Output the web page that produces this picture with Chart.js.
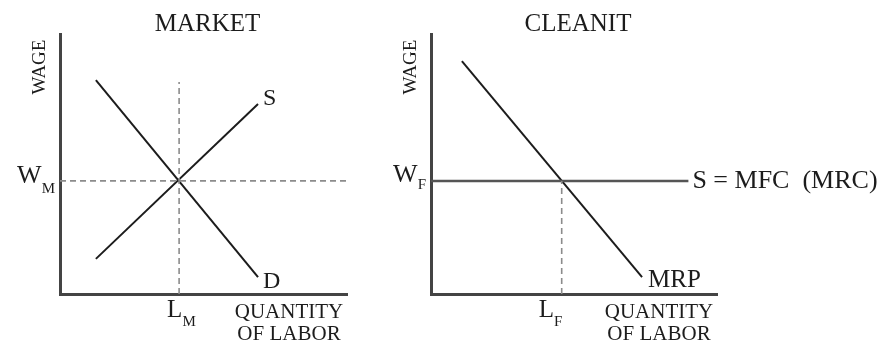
<!DOCTYPE html>
<html>
<head>
<meta charset="utf-8">
<script src="https://cdn.jsdelivr.net/npm/chart.js@4.4.0/dist/chart.umd.min.js"></script>
<style>
  body { margin: 0; background: #fff; }
  #wrap { position: relative; width: 880px; height: 344px; overflow: hidden; }
  #market { position: absolute; left: 0; top: 0; }
  #cleanit { position: absolute; left: 375px; top: 0; }
</style>
</head>
<body>
<div id="wrap">
  <canvas id="market" width="375" height="344"></canvas>
  <canvas id="cleanit" width="505" height="344"></canvas>
</div>
<script>
// market panel (axes run 0..10 in both directions)
const demandX = [1.25, 6.9];
const demandY = [8.23, 0.65];
const supplyX = [1.25, 6.9];
const supplyY = [1.35, 7.31];
const wageM = 4.35;
const laborM = 4.15;
const laborMTop = 8.15;

// firm panel
const mrpX = [1.08, 7.38];
const mrpY = [8.96, 0.65];
const wageF = 4.35;
const laborF = 4.57;
const mfcEnd = 9.0;

const SERIF = '"Liberation Serif", "Times New Roman", serif';
const INK = '#1c1c1c';

function pts(xs, ys) {
  return xs.map((x, i) => ({ x: x, y: ys[i] }));
}

function solid(data, color, width) {
  return { data: data, showLine: true, borderColor: color, borderWidth: width,
    pointRadius: 0, fill: false, tension: 0 };
}
function dashed(data) {
  return { data: data, showLine: true, borderColor: '#8c8c8c', borderWidth: 1.6,
    borderDash: [6, 4], pointRadius: 0, fill: false, tension: 0 };
}

function axis() {
  return {
    type: 'linear', min: 0, max: 10,
    grid: { display: false, drawTicks: false },
    ticks: { display: false },
    border: { display: true, color: '#444', width: 3 }
  };
}

// text with an optional subscript, x is left edge (or right edge if align == 'right')
function subText(ctx, main, sub, x, y, size, subSize, drop, align) {
  ctx.font = size + 'px ' + SERIF;
  const w1 = ctx.measureText(main).width;
  ctx.font = subSize + 'px ' + SERIF;
  const w2 = sub ? ctx.measureText(sub).width : 0;
  let left = align === 'right' ? x - w1 - w2 : x;
  ctx.textAlign = 'left';
  ctx.textBaseline = 'alphabetic';
  ctx.font = size + 'px ' + SERIF;
  ctx.fillText(main, left, y);
  if (sub) {
    ctx.font = subSize + 'px ' + SERIF;
    ctx.fillText(sub, left + w1, y + drop);
  }
}

function commonLabels(ctx, ca, title) {
  ctx.fillStyle = INK;
  ctx.font = '25px ' + SERIF;
  ctx.textAlign = 'center';
  ctx.textBaseline = 'alphabetic';
  ctx.fillText(title, (ca.left + ca.right) / 2 + 4, 31);

  ctx.save();
  ctx.translate(ca.left - 20, 67);
  ctx.rotate(-Math.PI / 2);
  ctx.font = '19px ' + SERIF;
  ctx.textBaseline = 'middle';
  ctx.fillText('WAGE', 0, 0);
  ctx.restore();

  ctx.font = '21px ' + SERIF;
  ctx.textAlign = 'center';
  ctx.textBaseline = 'alphabetic';
  ctx.fillText('QUANTITY', ca.right - 58, 318);
  ctx.fillText('OF LABOR', ca.right - 58, 340);
}

const marketLabels = {
  id: 'marketLabels',
  afterDraw(chart) {
    const ctx = chart.ctx, ca = chart.chartArea;
    const xs = chart.scales.x, ys = chart.scales.y;
    ctx.save();
    commonLabels(ctx, ca, 'MARKET');
    subText(ctx, 'W', 'M', ca.left - 5, ys.getPixelForValue(wageM) + 2, 26, 15, 10, 'right');
    subText(ctx, 'L', 'M', xs.getPixelForValue(laborM) - 12, 317, 25, 15, 9);
    subText(ctx, 'S', '', xs.getPixelForValue(supplyX[1]) + 5, ys.getPixelForValue(supplyY[1]) + 1, 24);
    subText(ctx, 'D', '', xs.getPixelForValue(demandX[1]) + 5, ys.getPixelForValue(demandY[1]) + 11, 24);
    ctx.restore();
  }
};

const firmLabels = {
  id: 'firmLabels',
  afterDraw(chart) {
    const ctx = chart.ctx, ca = chart.chartArea;
    const xs = chart.scales.x, ys = chart.scales.y;
    ctx.save();
    commonLabels(ctx, ca, 'CLEANIT');
    subText(ctx, 'W', 'F', ca.left - 5, ys.getPixelForValue(wageF) + 1, 26, 15, 7, 'right');
    subText(ctx, 'L', 'F', xs.getPixelForValue(laborF) - 23, 317, 25, 15, 9);
    subText(ctx, 'MRP', '', xs.getPixelForValue(mrpX[1]) + 6, ys.getPixelForValue(mrpY[1]) + 10, 25);
    subText(ctx, 'S = MFC  (MRC)', '', xs.getPixelForValue(mfcEnd) + 4, ys.getPixelForValue(wageF) + 7, 26);
    ctx.restore();
  }
};

function baseOptions(padding) {
  return {
    responsive: false,
    animation: false,
    events: [],
    layout: { padding: padding },
    plugins: { legend: { display: false }, tooltip: { enabled: false } },
    scales: { x: axis(), y: axis() }
  };
}

new Chart(document.getElementById('market'), {
  type: 'scatter',
  data: {
    datasets: [
      dashed([{ x: 0, y: wageM }, { x: 10, y: wageM }]),
      dashed([{ x: laborM, y: 0 }, { x: laborM, y: laborMTop }]),
      solid(pts(demandX, demandY), INK, 2),
      solid(pts(supplyX, supplyY), INK, 2)
    ]
  },
  options: baseOptions({ left: 60, right: 28, top: 34, bottom: 50 }),
  plugins: [marketLabels]
});

new Chart(document.getElementById('cleanit'), {
  type: 'scatter',
  data: {
    datasets: [
      dashed([{ x: laborF, y: 0 }, { x: laborF, y: wageF }]),
      solid([{ x: 0, y: wageF }, { x: mfcEnd, y: wageF }], '#555', 2.5),
      solid(pts(mrpX, mrpY), INK, 2)
    ]
  },
  options: baseOptions({ left: 56, right: 163, top: 34, bottom: 50 }),
  plugins: [firmLabels]
});
</script>
</body>
</html>
